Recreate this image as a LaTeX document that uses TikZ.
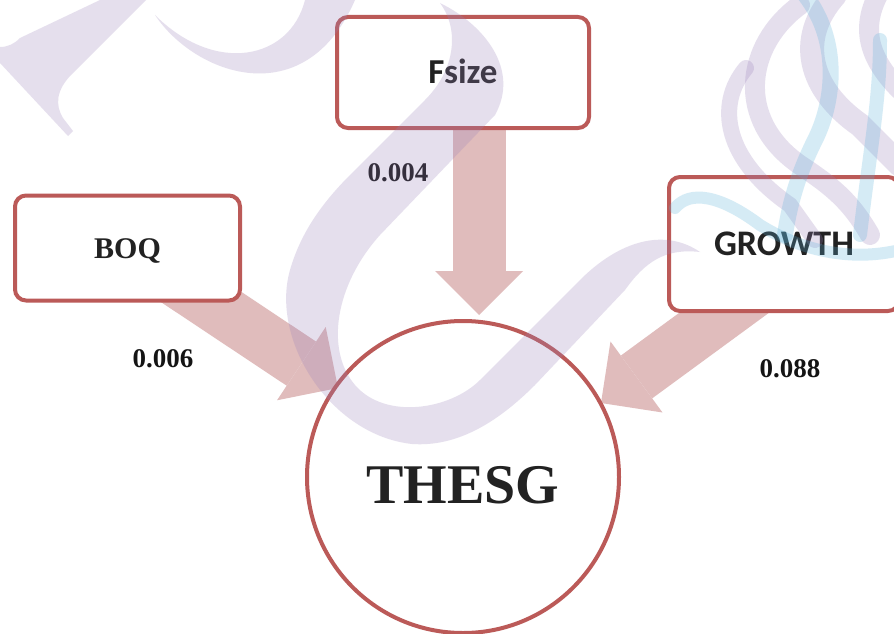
\documentclass[tikz,border=0pt]{standalone}
\usepackage{fontspec}
\setmainfont{Liberation Serif}
\newfontfamily\calibri{Carlito}
\usetikzlibrary{arrows.meta}
\definecolor{boxedge}{RGB}{187,90,88}
\definecolor{arrowfill}{RGB}{224,188,188}
\definecolor{ink}{RGB}{34,34,34}
\definecolor{wmpurple}{RGB}{155,131,187}
\definecolor{wmcyan}{RGB}{91,179,219}
\pgfdeclarelayer{back}
\pgfdeclarelayer{front}
\pgfsetlayers{back,main,front}

\begin{document}
\begin{tikzpicture}[x=1pt,y=-1pt,
  box/.style={draw=boxedge, line width=4pt, rounded corners=11pt, fill=white,
    inner sep=0pt, text=ink, text depth=0pt},
  fatarrow/.style={draw=arrowfill, line width=53pt,
    -{Triangle[width=88pt,length=44pt,line width=0pt,fill=arrowfill]}},
  coef/.style={font=\bfseries\fontsize{27}{27}\selectfont, anchor=base, text=black!92},
  wmfill/.style={fill=wmpurple, fill opacity=0.25},
  wmband/.style={draw=wmpurple, draw opacity=0.25, line cap=round},
  wmcyan/.style={draw=wmcyan, draw opacity=0.25, line cap=round}]

\clip (0,0) rectangle (894,634);

% variable boxes
\node[box, minimum width=252pt, minimum height=111pt, text height=23pt,
  font=\calibri\bfseries\fontsize{35}{35}\selectfont] (fsize) at (463,72.5) {Fsize};
\node[box, minimum width=225pt, minimum height=105pt, text height=20pt,
  font=\bfseries\fontsize{30}{30}\selectfont] (boq) at (127.5,248) {BOQ};
\node[box, minimum width=230pt, minimum height=134pt, text height=23pt,
  font=\calibri\bfseries\fontsize{36}{36}\selectfont] (growth) at (784,244) {GROWTH};

% dependent variable
\node[draw=boxedge, line width=4pt, circle, minimum size=312pt, inner sep=0pt, fill=white] (thesg) at (463,477) {};
\node[font=\bfseries\fontsize{56}{56}\selectfont, text=ink, anchor=base] (thesglabel) at (463,503) {THESG};

% coefficients
\node[coef] (cfsize) at (398,181) {0.004};
\node[coef] (cboq) at (163,367) {0.006};
\node[coef] (cgrowth) at (790,377) {0.088};

% arrow tips touching the circle
\coordinate (fsizetip) at (479,315);
\coordinate (boqtip) at (338,388);
\coordinate (growthtip) at (601,403);

\begin{pgfonlayer}{back}
  \fill[white] (0,0) rectangle (894,634);
  \draw[fatarrow] ([xshift=16pt]fsize.center) -- (fsizetip);
  \draw[fatarrow] (boq.center) -- (boqtip);
  \draw[fatarrow] ([xshift=34pt]growth.center) -- (growthtip);
\end{pgfonlayer}

% background emblem
\begin{pgfonlayer}{front}
  % serif stroke, top left
  \fill[wmfill] (100,0) -- (146,0) -- (72,74) .. controls (56,90) and (55,105) .. (63,118)
    -- (73,131) -- (68,136) -- (0,63) -- (0,47) .. controls (8,47) and (14,44) .. (20,38) -- cycle;
  % bowl
  \fill[wmfill] (155,15) .. controls (195,75) and (305,115) .. (355,0) -- (305,0)
    .. controls (290,60) and (215,75) .. (155,15) -- cycle;
  % large swash
  \fill[wmfill] (440,3) .. controls (485,25) and (520,70) .. (495,115) -- (380,235)
    .. controls (335,285) and (325,350) .. (355,385) .. controls (385,420) and (450,410) .. (480,380)
    -- (580,280) .. controls (620,240) and (665,228) .. (700,252)
    .. controls (665,248) and (645,262) .. (625,290) -- (535,385)
    .. controls (495,425) and (455,447) .. (412,444) .. controls (330,435) and (270,340) .. (290,270)
    .. controls (300,235) and (320,205) .. (350,175) -- (425,100)
    .. controls (455,70) and (460,30) .. (440,3) -- cycle;
  % ribbons, top right
  \draw[wmband, line width=16pt] (746,68) .. controls (715,105) and (725,160) .. (790,205) -- (815,240);
  \draw[wmband, line width=20pt] (800,5) .. controls (745,45) and (735,120) .. (800,165)
    .. controls (830,185) and (850,200) .. (870,235);
  \draw[wmband, line width=24pt] (835,-5) .. controls (795,40) and (810,90) .. (860,125) -- (900,165);
  \draw[wmband, line width=20pt] (878,-5) .. controls (860,30) and (870,60) .. (900,90);
  \draw[wmcyan, line width=16pt] (805,-5) .. controls (840,40) and (835,100) .. (815,140)
    .. controls (800,170) and (790,200) .. (785,235);
  \draw[wmcyan, line width=14pt] (880,40) .. controls (880,100) and (870,150) .. (860,235);
  \draw[wmcyan, line width=12pt] (675,208) .. controls (690,190) and (720,195) .. (760,225)
    .. controls (800,250) and (850,262) .. (900,250);
\end{pgfonlayer}
\end{tikzpicture}
\end{document}
